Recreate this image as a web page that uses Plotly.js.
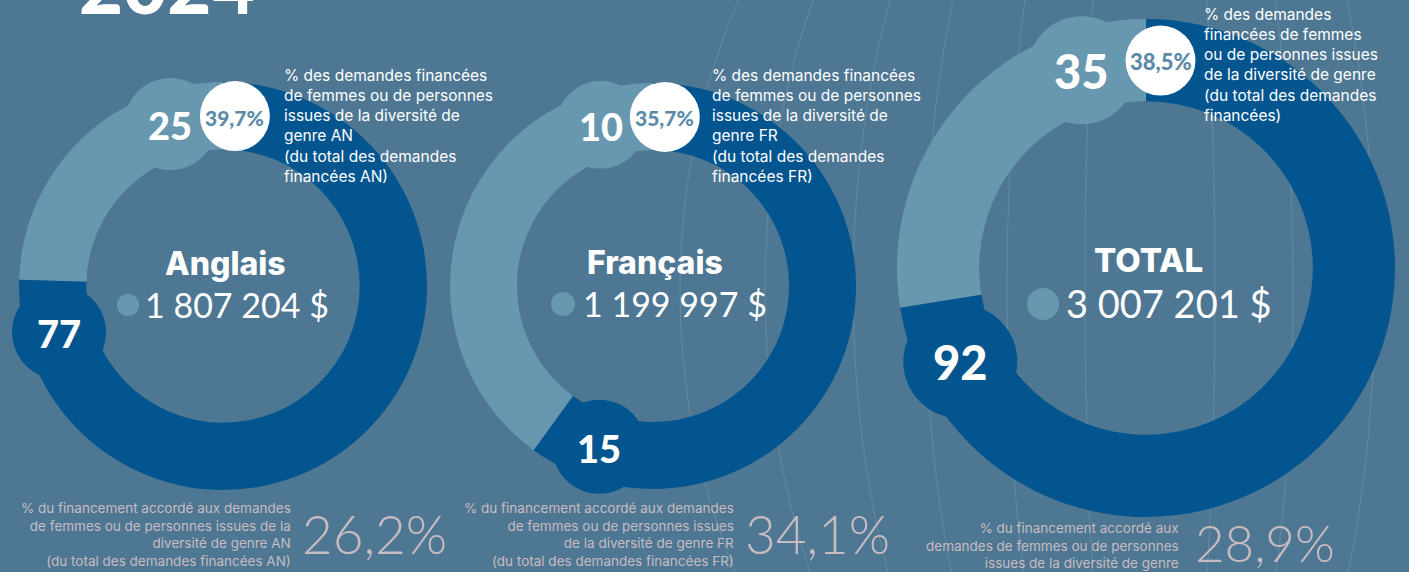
<!DOCTYPE html>
<html><head><meta charset="utf-8">
<script src="https://cdn.plot.ly/plotly-3.0.1.min.js"></script>
<style>html,body{margin:0;padding:0;background:#4e7793;overflow:hidden}</style>
</head><body><div id="chart" style="width:1409px;height:572px"></div>
<script>
// ---------- data ----------
const yearLabel = '2024';
const groups = ['Anglais', 'Français', 'TOTAL'];
const womenCounts = [25, 10, 35];
const otherCounts = [77, 15, 92];
const pctRequests = ['39,7%', '35,7%', '38,5%'];
const amounts = ['1 807 204 $', '1 199 997 $', '3 007 201 $'];
const pctFunding = ['26,2%', '34,1%', '28,9%'];
const requestNotes = [
  ['% des demandes financées', 'de femmes ou de personnes', 'issues de la diversité de', 'genre AN', '(du total des demandes', 'financées AN)'],
  ['% des demandes financées', 'de femmes ou de personnes', 'issues de la diversité de', 'genre FR', '(du total des demandes', 'financées FR)'],
  ['% des demandes', 'financées de femmes', 'ou de personnes issues', 'de la diversité de genre', '(du total des demandes', 'financées)']
];
const fundingNotes = [
  ['% du financement accordé aux demandes', 'de femmes ou de personnes issues de la', 'diversité de genre AN', '(du total des demandes financées AN)'],
  ['% du financement accordé aux demandes', 'de femmes ou de personnes issues', 'de la diversité de genre FR', '(du total des demandes financées FR)'],
  ['% du financement accordé aux', 'demandes de femmes ou de personnes', 'issues de la diversité de genre']
];

// ---------- layout / style ----------
const W = 1409, H = 572, HOLE = 0.67;
const C = {bg:'#4e7793', light:'#6898b0', dark:'#03558f', white:'#ffffff', pct:'#5b8ba7', muted:'#c8bcc0'};
const FONT = 'Inter, Open Sans, sans-serif';
const NUMFONT = 'Lato, Open Sans, sans-serif';
const geo = [
  {cx:223, cy:286, R:204, rl:46, rw:35, rd:47, nsz:38, psz:21, nameY:-23, nameSz:32, amtX:-80, amtY:18, amtSz:34, bulX:-95, bulR:11,
   noteX:282, noteTop:64, fnX:293, fnTop:498, bigX:300, bigY:533, bigSz:53},
  {cx:653, cy:286, R:203, rl:44, rw:35, rd:47, nsz:38, psz:21, nameY:-24, nameSz:32, amtX:-72, amtY:17, amtSz:34, bulX:-90, bulR:12,
   noteX:710, noteTop:64, fnX:736, fnTop:498, bigX:743, bigY:533, bigSz:53},
  {cx:1146, cy:268, R:249, rl:54, rw:35, rd:57, nsz:47, psz:22, nameY:-8, nameSz:33, amtX:-82, amtY:35, amtSz:38, bulX:-103, bulR:16,
   noteX:1202, noteTop:3, fnX:1181, fnTop:518, bigX:1193, bigY:542, bigSz:51}
];
const px = x => x / W;
const py = y => 1 - y / H;

function ringPoint(g, deg) {
  const rm = g.R * (1 + HOLE) / 2, a = deg * Math.PI / 180;
  return {x: g.cx - rm * Math.sin(a), y: g.cy - rm * Math.cos(a)};
}
function circle(p, r, color) {
  return {type:'circle', xref:'paper', yref:'paper', xsizemode:'pixel', ysizemode:'pixel',
    xanchor:px(p.x), yanchor:py(p.y), x0:-r, x1:r, y0:-r, y1:r,
    fillcolor:color, line:{width:0}, layer:'above'};
}
function label(x, y, text, font, xa, ya, align) {
  return {xref:'paper', yref:'paper', x:px(x), y:py(y), xanchor:xa || 'center', yanchor:ya || 'middle',
    align:align || 'center', showarrow:false, text:text, font:font};
}

const traces = groups.map((name, i) => {
  const g = geo[i];
  const lightShare = 360 * womenCounts[i] / (womenCounts[i] + otherCounts[i]);
  return {
    type:'pie', name:name, values:[womenCounts[i], otherCounts[i]],
    labels:['Femmes / diversité de genre', 'Autres'], sort:false,
    direction:'counterclockwise', rotation:-lightShare, hole:HOLE,
    textinfo:'none', hoverinfo:'skip', showlegend:false,
    marker:{colors:[C.light, C.dark], line:{width:0}},
    domain:{x:[px(g.cx - g.R), px(g.cx + g.R)], y:[(H - g.cy - g.R) / H, (H - g.cy + g.R) / H]}
  };
});

const shapes = [];
const annotations = [];

// faint decorative meridians
[65, 143, 225, 297, 385, 470].forEach(rx => {
  shapes.push({type:'circle', xref:'paper', yref:'paper', xsizemode:'pixel', ysizemode:'pixel',
    xanchor:px(1150), yanchor:py(290), x0:-rx, x1:rx, y0:-600, y1:600,
    line:{color:'rgba(255,255,255,0.13)', width:1}, layer:'below'});
});

annotations.push(label(77, -16, yearLabel, {family:NUMFONT, size:76, weight:900, color:C.white}, 'left', 'middle'));

groups.forEach((name, i) => {
  const g = geo[i];
  const boundary = 360 * womenCounts[i] / (womenCounts[i] + otherCounts[i]);
  const pL = ringPoint(g, 18), pW = ringPoint(g, -4), pD = ringPoint(g, boundary + 17.5);
  shapes.push(circle(pL, g.rl, C.light));
  shapes.push(circle(pW, g.rw, C.white));
  shapes.push(circle(pD, g.rd, C.dark));
  shapes.push(circle({x:g.cx + g.bulX, y:g.cy + g.amtY + 1}, g.bulR, C.light));

  annotations.push(label(pL.x, pL.y + 1, String(womenCounts[i]), {family:NUMFONT, size:g.nsz, weight:900, color:C.white}));
  annotations.push(label(pW.x, pW.y + 1, pctRequests[i], {family:NUMFONT, size:g.psz, weight:900, color:C.pct}));
  annotations.push(label(pD.x, pD.y + 1, String(otherCounts[i]), {family:NUMFONT, size:g.nsz, weight:900, color:C.white}));

  annotations.push(label(g.cx + 2, g.cy + g.nameY, name, {family:FONT, size:g.nameSz, weight:800, color:C.white}));
  annotations.push(label(g.cx + g.amtX, g.cy + g.amtY, amounts[i], {family:NUMFONT, size:g.amtSz, color:C.white}, 'left', 'middle'));

  annotations.push(label(g.noteX, g.noteTop, requestNotes[i].join('<br>'), {family:FONT, size:15.5, color:C.white}, 'left', 'top', 'left'));
  annotations.push(label(g.fnX, g.fnTop, fundingNotes[i].join('<br>'), {family:FONT, size:13.5, color:C.muted}, 'right', 'top', 'right'));
  annotations.push(label(g.bigX, g.bigY, pctFunding[i], {family:NUMFONT, size:g.bigSz, weight:300, color:C.muted}, 'left', 'middle'));
});

const layout = {
  width:W, height:H, margin:{l:0, r:0, t:0, b:0},
  paper_bgcolor:C.bg, plot_bgcolor:C.bg, showlegend:false,
  shapes:shapes, annotations:annotations
};
Plotly.newPlot('chart', traces, layout, {staticPlot:true, displayModeBar:false});
</script></body></html>
